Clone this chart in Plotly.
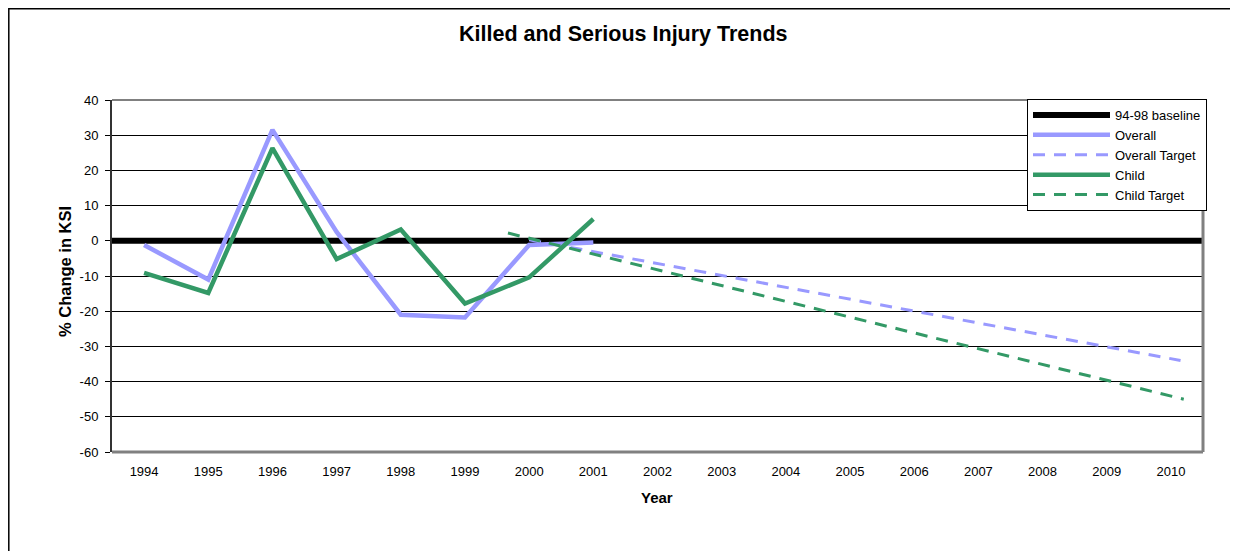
import plotly.graph_objects as go

# ---------------- data ----------------
years = list(range(1994, 2011))
year_labels = [str(y) for y in years]

overall_years = [1994, 1995, 1996, 1997, 1998, 1999, 2000, 2001]
overall = [-1.2, -11.0, 31.5, 2.5, -21.0, -21.8, -1.2, -0.5]

child_years = [1994, 1995, 1996, 1997, 1998, 1999, 2000, 2001]
child = [-9.1, -14.8, 26.3, -5.2, 3.2, -17.8, -10.4, 6.2]

overall_target_years = [2000.0, 2010.15]
overall_target = [0.3, -34.0]

child_target_years = [1999.67, 2010.2]
child_target = [2.2, -45.0]

baseline_years = [1993.5, 2010.5]
baseline = [0, 0]

y_ticks = [40, 30, 20, 10, 0, -10, -20, -30, -40, -50, -60]
y_tick_labels = ["40", "30", "20", "10", "0", "-10", "-20", "-30", "-40", "-50", "-60"]

FONT = "Arial, Liberation Sans, sans-serif"
LAV = "#9999FF"
GRN = "#339966"

# page-pixel helpers (page has an 8px body margin; plot area spans page x 112..1203, y 100..452)
def px(x):
    return (x - 112) / 1091.0

def py(y):
    return (452 - y) / 352.0

fig = go.Figure()
fig.add_trace(go.Scatter(x=baseline_years, y=baseline, mode="lines", name="94-98 baseline",
                         line=dict(color="#000000", width=6)))
fig.add_trace(go.Scatter(x=overall_years, y=overall, mode="lines", name="Overall",
                         line=dict(color=LAV, width=4.5)))
fig.add_trace(go.Scatter(x=overall_target_years, y=overall_target, mode="lines", name="Overall Target",
                         line=dict(color=LAV, width=3, dash="12px,9px")))
fig.add_trace(go.Scatter(x=child_years, y=child, mode="lines", name="Child",
                         line=dict(color=GRN, width=4.5)))
fig.add_trace(go.Scatter(x=child_target_years, y=child_target, mode="lines", name="Child Target",
                         line=dict(color=GRN, width=3, dash="12px,9px")))

fig.update_layout(
    width=1230, height=543,
    margin=dict(l=104, r=35, t=92, b=99),
    paper_bgcolor="white", plot_bgcolor="white",
    font=dict(family=FONT, size=12, color="#000000"),
    showlegend=True,
    legend=dict(x=px(1027), xanchor="left", y=py(99), yanchor="top",
                bgcolor="white", bordercolor="#000000", borderwidth=1,
                font=dict(family=FONT, size=13, color="#000000"),
                itemwidth=77, tracegroupgap=0),
    xaxis=dict(range=[1993.5, 2010.5], tickmode="array", tickvals=years, ticktext=year_labels,
               showgrid=False, zeroline=False, ticks="", showline=False,
               ticklabelstandoff=10,
               tickfont=dict(family=FONT, size=13)),
    yaxis=dict(range=[-60, 40], tickmode="array", tickvals=y_ticks, ticktext=y_tick_labels,
               showgrid=True, gridcolor="#000000", gridwidth=1, zeroline=False,
               ticks="outside", ticklen=5, tickcolor="#000000", tickwidth=1,
               showline=True, linecolor="#333333", linewidth=2,
               ticklabelstandoff=4,
               tickfont=dict(family=FONT, size=13)),
    annotations=[
        dict(text="<b>Killed and Serious Injury Trends</b>", xref="paper", yref="paper",
             x=px(623), y=py(34), xanchor="center", yanchor="middle",
             showarrow=False, font=dict(family=FONT, size=21.5)),
        dict(text="<b>% Change in KSI</b>", xref="paper", yref="paper",
             x=px(65), y=py(272), xanchor="center", yanchor="middle", textangle=-90,
             showarrow=False, font=dict(family=FONT, size=16.5)),
        dict(text="<b>Year</b>", xref="paper", yref="paper",
             x=px(657), y=py(497), xanchor="center", yanchor="middle",
             showarrow=False, font=dict(family=FONT, size=15)),
    ],
    shapes=[
        # outer chart border
        dict(type="rect", xref="paper", yref="paper", x0=px(8.8), x1=px(1280),
             y0=py(620), y1=py(8.8), line=dict(color="#000000", width=1.5),
             layer="below"),
        # plot area border (grey)
        dict(type="line", xref="x domain", yref="y domain", x0=0, x1=1, y0=1, y1=1,
             line=dict(color="#808080", width=2)),
        dict(type="line", xref="x domain", yref="y domain", x0=0, x1=1, y0=0, y1=0,
             line=dict(color="#808080", width=3)),
        dict(type="line", xref="x domain", yref="y domain", x0=1, x1=1, y0=0, y1=1,
             line=dict(color="#808080", width=3)),
    ],
)

fig.write_html("out.html")
